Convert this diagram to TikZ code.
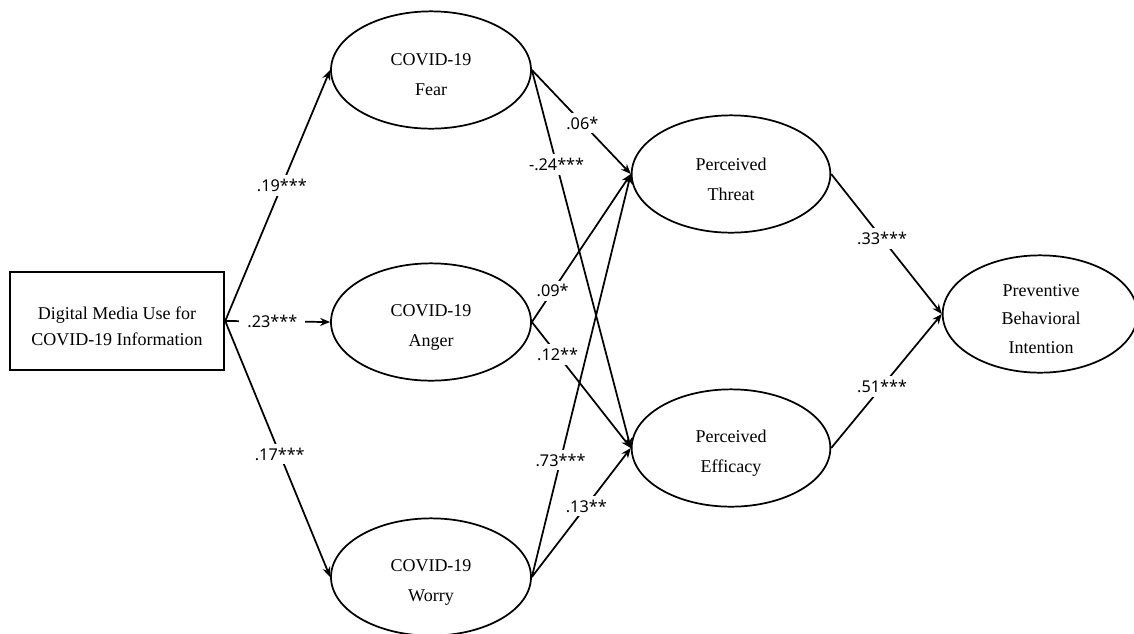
\documentclass[tikz,border=0pt]{standalone}
\usepackage{fontspec}
\setmainfont{Liberation Serif}
\newfontfamily\lblfont{Noto Sans}
\usetikzlibrary{shapes.geometric,arrows.meta}
\begin{document}
\begin{tikzpicture}[x=0.75pt,y=-0.75pt,
  latent/.style={ellipse, draw, line width=1.3pt, inner sep=0pt,
    minimum width=150pt, minimum height=88pt},
  obsbox/.style={rectangle, draw, line width=1.3pt, inner sep=0pt,
    minimum width=161pt, minimum height=74pt},
  txt/.style={inner sep=0pt, align=center, font=\fontsize{13.5}{22.5}\selectfont},
  pathline/.style={line width=1.3pt, -{Stealth[length=7.5pt,width=6pt]}},
  coef/.style={fill=white, inner xsep=6pt, inner ysep=3pt,
    font=\lblfont\fontsize{12.2}{14}\selectfont}
]
\useasboundingbox (0,0) rectangle (1134,633);
\fill[white] (0,0) rectangle (1134,633);

\node[obsbox] (dm) at (117,321) {};
\node[txt, font=\fontsize{13.5}{19.5}\selectfont] (dmt) at (117,326) {Digital Media Use for\\COVID-19 Information};
\node[latent] (fear) at (431,70) {};
\node[txt] (feart) at (431,75) {COVID-19\\Fear};
\node[latent] (anger) at (431,322) {};
\node[txt] (angert) at (431,327) {COVID-19\\Anger};
\node[latent] (worry) at (431,577) {};
\node[txt] (worryt) at (431,582) {COVID-19\\Worry};
\node[latent, minimum width=149pt] (threat) at (731,174) {};
\node[txt] (threatt) at (731,179) {Perceived\\Threat};
\node[latent, minimum width=149pt] (eff) at (731,448) {};
\node[txt] (efft) at (731,453) {Perceived\\Efficacy};
\node[latent, minimum width=146pt] (pbi) at (1040,314) {};
\node[txt, font=\fontsize{13.5}{21.5}\selectfont] (pbit) at (1041,319) {Preventive\\Behavioral\\Intention};

\draw[pathline] (dm.east) -- node[coef,pos=0.54]{.19***} (fear.west);
\draw[pathline] (dm.east) -- node[coef,pos=0.45]{.23***} (anger.west);
\draw[pathline] (dm.east) -- node[coef,pos=0.52]{.17***} (worry.west);

\draw[pathline] (fear.east) -- node[coef,pos=0.51]{.06*} (threat.west);
\draw[pathline] (fear.east) -- node[coef,pos=0.25]{-.24***} (eff.west);
\draw[pathline] (anger.east) -- node[coef,pos=0.21]{.09*} (threat.west);
\draw[pathline] (anger.east) -- node[coef,pos=0.26]{.12**} (eff.west);
\draw[pathline] (worry.east) -- node[coef,pos=0.29]{.73***} (threat.west);
\draw[pathline] (worry.east) -- node[coef,pos=0.55]{.13**} (eff.west);

\draw[pathline] (threat.east) -- node[coef,pos=0.46]{.33***} (pbi.west);
\draw[pathline] (eff.east) -- node[coef,pos=0.46]{.51***} (pbi.west);
\end{tikzpicture}
\end{document}
